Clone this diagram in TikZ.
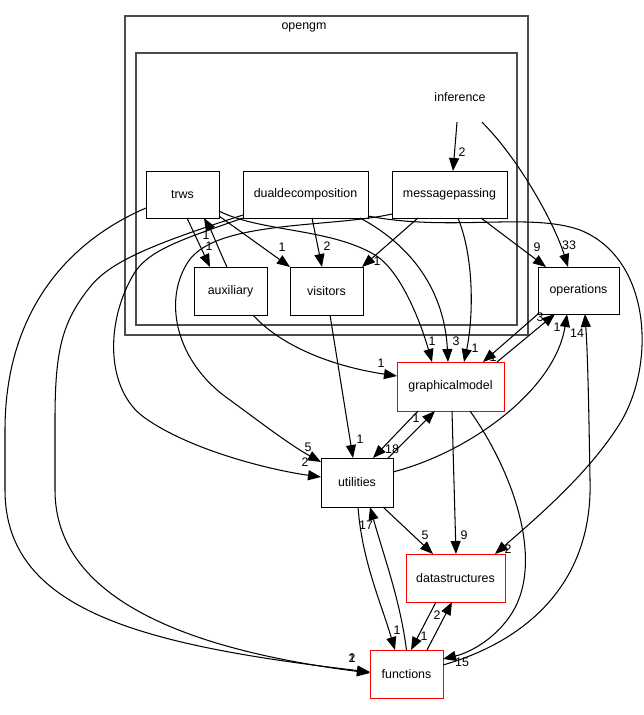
\documentclass[tikz,border=0pt]{standalone}
\usepackage{fontspec}
\setmainfont{Liberation Sans}
\usetikzlibrary{arrows.meta}
\begin{document}
\begin{tikzpicture}[x=1pt,y=-1pt,
  box/.style={draw=black,fill=white,line width=0.95pt,minimum height=47pt,inner sep=0pt,outer sep=0pt,font=\fontsize{12.4}{14}\selectfont},
  redbox/.style={box,draw=red},
  dep/.style={line width=1.05pt,-{Triangle[length=13pt,width=10pt]}},
  lbl/.style={font=\fontsize{12.4}{14}\selectfont,inner sep=0pt},
  cluster/.style={draw=black!70,line width=1.6pt}]

\useasboundingbox (0,0) rectangle (644,715);
\fill[white] (0,0) rectangle (644,715);
\draw[cluster] (125,16) rectangle (528,335);
\draw[cluster] (136,53) rectangle (517,325);
\node[lbl] (opengm) at (304,27) {opengm};
\node[lbl,minimum height=50pt,minimum width=60pt] (inf) at (460,97) {inference};

\node[box,minimum width=73pt] (trws) at (182.5,194.5) {trws};
\node[box,minimum width=125pt] (dd) at (305.5,194.5) {dualdecomposition};
\node[box,minimum width=115pt] (mp) at (449.5,194.5) {messagepassing};
\node[box,minimum width=73pt,minimum height=48pt] (aux) at (230.5,291) {auxiliary};
\node[box,minimum width=73pt,minimum height=48pt] (vis) at (326.5,291) {visitors};
\node[box,minimum width=81pt] (ops) at (578.5,290.5) {operations};
\node[redbox,minimum width=107pt,minimum height=49pt] (gm) at (450.5,386.5) {graphicalmodel};
\node[box,minimum width=72pt,minimum height=49pt] (util) at (357,482.5) {utilities};
\node[redbox,minimum width=99pt,minimum height=48pt] (ds) at (455.5,578) {datastructures};
\node[redbox,minimum width=73pt,minimum height=48pt] (func) at (406.5,674) {functions};

% inference
\draw[dep] ([xshift=-3pt]inf.south) -- ([xshift=3.5pt]mp.north) node[lbl] at (462,152) {2};
\draw[dep] ([xshift=22pt]inf.south) .. controls (520,160) and (555,225) .. ([xshift=-10.5pt]ops.north) node[lbl] at (569,245) {33};
% trws
\draw[dep] ([xshift=4.5pt]trws.south) -- ([xshift=-20.5pt]aux.north) node[lbl] at (209,246) {1};
\draw[dep] ([xshift=-3.5pt]aux.north) .. controls (219,250) and (212,232) .. ([xshift=21.5pt]trws.south) node[lbl] at (206,235) {1};
\draw[dep] ([yshift=2pt]trws.south east) -- (vis.north west) node[lbl] at (282,247) {1};
\draw[dep] ([yshift=7pt]trws.south east) .. controls (260,232) and (330,228) .. (375,255) .. controls (400,270) and (420,320) .. ([xshift=-18.5pt]gm.north) node[lbl] at (432,341) {1};
\draw[dep] ([yshift=10pt]trws.south west) .. controls (60,245) and (5,320) .. (5,430) -- (5,490) .. controls (5,610) and (140,645) .. ([yshift=-22pt]func.north west) node[lbl] at (352,658) {2};
% dualdecomposition
\draw[dep] ([xshift=6.5pt]dd.south) -- ([xshift=-4.5pt]vis.north) node[lbl] at (327,246) {2};
\draw[dep] ([xshift=-8pt]dd.south east) .. controls (420,250) and (445,300) .. ([xshift=-2.5pt]gm.north) node[lbl] at (456,341) {3};
\draw[dep] ([yshift=2pt]dd.south east) .. controls (450,232) and (530,212) .. (580,230) .. controls (650,258) and (656,360) .. (622,420) .. controls (592,470) and (540,515) .. ([xshift=-10pt]ds.north east) node[lbl] at (508,549) {2};
\draw[dep] (dd.south west) .. controls (180,240) and (150,250) .. (135,272) .. controls (105,320) and (105,390) .. (145,418) .. controls (190,450) and (270,470) .. ([yshift=-19pt]util.north west) node[lbl] at (305,462) {2};
\draw[dep] ([yshift=3pt]dd.south west) .. controls (150,245) and (110,262) .. (90,287) .. controls (62,322) and (55,350) .. (55,420) -- (55,490) .. controls (55,600) and (190,650) .. ([yshift=-23pt]func.north west) node[lbl] at (352,658) {1};
% messagepassing
\draw[dep] ([xshift=-31.5pt]mp.south) -- ([xshift=-1pt]vis.north east) node[lbl] at (377,261) {1};
\draw[dep] ([xshift=8.5pt]mp.south) .. controls (475,260) and (473,320) .. ([xshift=13.5pt]gm.north) node[lbl] at (475,348) {1};
\draw[dep] ([xshift=31.5pt]mp.south) -- ([xshift=8pt]ops.north west) node[lbl] at (537,247) {9};
\draw[dep] ([yshift=4pt]mp.south west) .. controls (330,228) and (215,220) .. (188,262) .. controls (163,300) and (175,362) .. (230,400) .. controls (260,422) and (290,445) .. ([yshift=-4pt]util.north west) node[lbl] at (308,447) {5};
% auxiliary, visitors
\draw[dep] ([xshift=22.5pt]aux.south) .. controls (280,345) and (330,366) .. ([yshift=-14pt]gm.north west) node[lbl] at (381,363) {1};
\draw[dep] ([xshift=3.5pt]vis.south) -- ([xshift=-4pt]util.north) node[lbl] at (360,439) {1};
% operations / graphicalmodel
\draw[dep] (ops.south west) -- ([xshift=32.5pt]gm.north) node[lbl] at (493,357) {1};
\draw[dep] ([xshift=-7pt]gm.north east) -- ([xshift=17pt]ops.south west) node[lbl] at (540,317) {3};
\draw[dep] ([xshift=21pt]gm.south west) -- ([xshift=16pt]util.north) node[lbl] at (392,449) {18};
\draw[dep] ([xshift=-5pt]util.north east) -- ([xshift=-15.5pt]gm.south) node[lbl] at (416,418) {1};
\draw[dep] ([xshift=1.5pt]gm.south) -- ([xshift=0.5pt]ds.north) node[lbl] at (464,535) {9};
\draw[dep] ([xshift=19.5pt]gm.south) .. controls (512,470) and (545,560) .. (512,613) .. controls (497,637) and (472,652) .. ([yshift=-9pt]func.north east) node[lbl] at (462,662) {15};
% utilities
\draw[dep] ([yshift=-14pt]util.north east) .. controls (470,452) and (555,390) .. ([xshift=-11.5pt]ops.south) node[lbl] at (557,327) {1};
\draw[dep] ([xshift=-10pt]util.south east) -- ([xshift=-22.5pt]ds.north) node[lbl] at (425,535) {5};
\draw[dep] ([xshift=1pt]util.south) .. controls (362,560) and (380,600) .. ([xshift=-11.5pt]func.north) node[lbl] at (397,630) {1};
% functions, datastructures
\draw[dep] (func.north) .. controls (400,600) and (385,560) .. ([xshift=13pt]util.south) node[lbl] at (366,525) {17};
\draw[dep] ([xshift=-16pt]func.north east) -- ([xshift=-3.5pt]ds.south) node[lbl] at (437,615) {2};
\draw[dep] ([xshift=-19.5pt]ds.south) -- ([xshift=4.5pt]func.north) node[lbl] at (424,636) {1};
\draw[dep] ([yshift=-15pt]func.north east) .. controls (530,640) and (593,580) .. (590,480) .. controls (589,420) and (588,360) .. ([xshift=6.5pt]ops.south) node[lbl] at (577,333) {14};
\end{tikzpicture}
\end{document}
